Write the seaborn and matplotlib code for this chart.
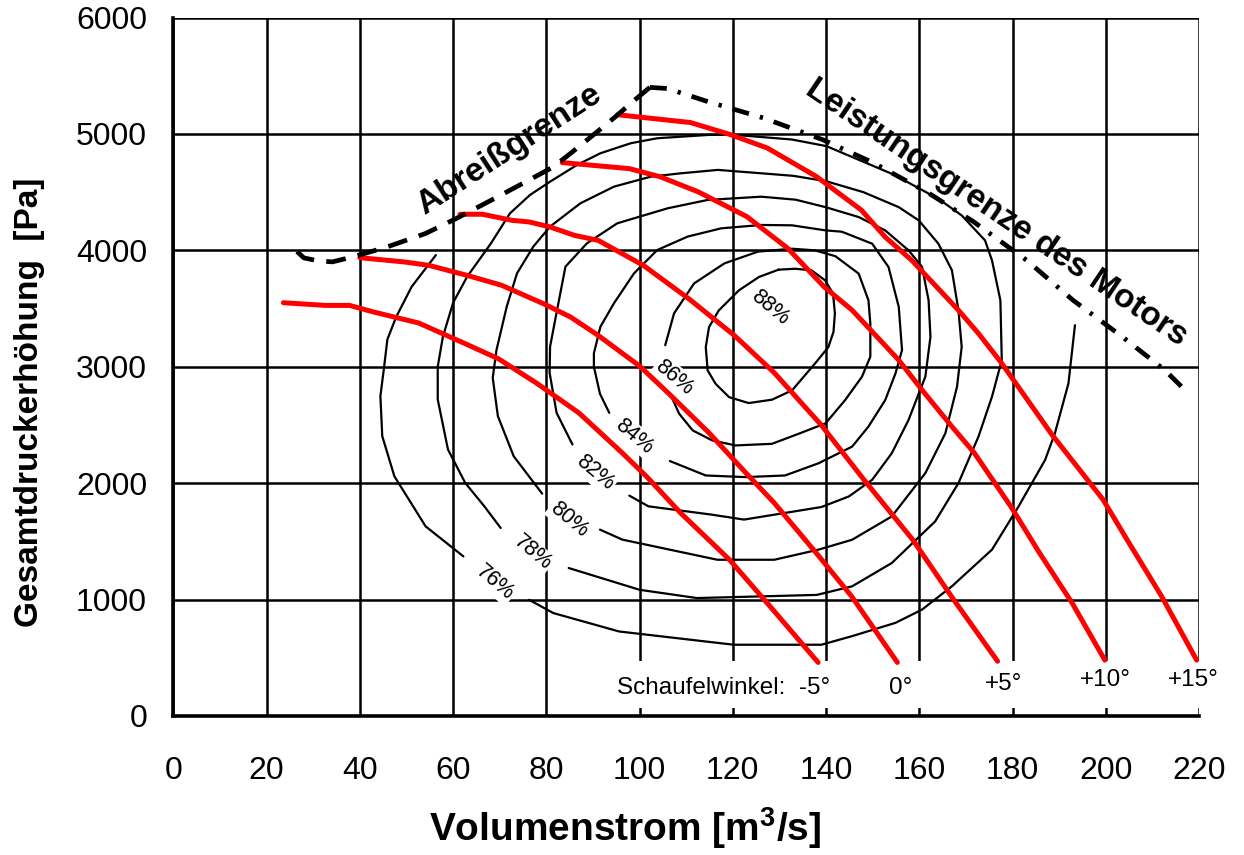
import numpy as np
import pandas as pd
import seaborn as sns
import matplotlib.pyplot as plt

# blade angle curves (Schaufelwinkel), volume flow [m3/s] vs total pressure rise [Pa]
blade_m5_x = [23.6, 32.6, 37.8, 43.0, 52.6, 62.6, 69.7, 77.8, 87.0, 96.3, 101.5, 108.8, 119.3, 128.0, 138.3]
blade_m5_y = [3550, 3527, 3527, 3470, 3376, 3198, 3069, 2862, 2603, 2259, 2057, 1744, 1342, 941, 460]
blade_0_x = [40.0, 49.6, 54.8, 63.0, 70.4, 79.7, 85.2, 91.1, 100.0, 106.1, 114.9, 122.8, 128.9, 138.5, 145.5, 155.3]
blade_0_y = [3937, 3900, 3871, 3785, 3700, 3536, 3427, 3270, 3006, 2776, 2432, 2088, 1830, 1371, 1027, 460]
blade_p5_x = [61.5, 66.3, 72.6, 76.3, 80.8, 86.0, 91.1, 100.8, 110.7, 120.3, 128.9, 138.9, 148.1, 158.6, 167.4, 176.8]
blade_p5_y = [4310, 4310, 4258, 4244, 4201, 4129, 4086, 3871, 3580, 3270, 2948, 2503, 2031, 1514, 998, 470]
blade_p10_x = [83.4, 97.8, 104.5, 112.6, 123.0, 131.8, 139.6, 145.6, 155.6, 160.6, 167.0, 171.8, 179.8, 185.8, 192.8, 199.8]
blade_p10_y = [4754, 4702, 4631, 4502, 4290, 4017, 3686, 3486, 3057, 2800, 2486, 2260, 1790, 1400, 970, 480]
blade_p15_x = [95.3, 110.9, 119.5, 127.4, 137.9, 147.6, 152.7, 158.4, 168.4, 172.7, 177.7, 188.4, 199.4, 205.0, 212.0, 219.5]
blade_p15_y = [5165, 5098, 4994, 4879, 4635, 4345, 4114, 3914, 3486, 3286, 3029, 2420, 1860, 1486, 1027, 480]
blade_labels = ["0°", "+5°", "+10°", "+15°"]
blade_label_x = [156.1, 178.0, 200.0, 218.8]
blade_label_y = [238, 275, 310, 310]

# efficiency isolines
eff88_x = [129.8, 133.4, 136.9, 139.8, 141.5, 141.9, 141.6, 140.5, 137.6, 132.7, 128.4, 123.4, 119.2, 116.3,
           114.6, 114.2, 114.9, 117.0, 121.3, 125.6, 129.8]
eff88_y = [3834, 3842, 3828, 3742, 3629, 3457, 3300, 3169, 3026, 2797, 2717, 2688, 2739, 2854,
           2969, 3169, 3341, 3484, 3656, 3771, 3834]
eff86_x = [105.5, 107.4, 111.7, 118.2, 125.4, 132.7, 137.6, 142.0, 147.0, 149.1, 149.5, 149.5, 147.7, 144.1,
           139.9, 134.1, 128.4, 120.6, 115.6, 111.4, 108.5, 106.7]
eff86_y = [3185, 3459, 3716, 3888, 3989, 4014, 4000, 3950, 3800, 3571, 3371, 3086, 2914, 2714,
           2514, 2424, 2338, 2324, 2367, 2453, 2596, 2754]
eff84_x = [93.5, 91.5, 90.2, 90.2, 91.6, 94.5, 98.8, 103.8, 110.3, 117.5, 126.1, 132.7, 139.8, 143.4, 149.9,
           153.4, 155.6, 156.3, 154.9, 152.7, 149.1, 145.6, 138.4, 131.2, 122.7, 114.2, 106.5]
eff84_y = [2604, 2768, 3000, 3115, 3344, 3545, 3802, 4003, 4118, 4189, 4218, 4215, 4172, 4160, 4057,
           3857, 3514, 3143, 2943, 2714, 2486, 2314, 2171, 2066, 2052, 2066, 2190]
eff82_x = [85.6, 82.2, 80.7, 80.8, 82.3, 84.1, 88.7, 95.2, 106.0, 114.6, 126.1, 133.5, 140.0, 147.0, 152.7,
           157.7, 160.6, 162.0, 162.4, 161.3, 159.9, 157.7, 154.1, 149.9, 144.9, 139.0, 122.4, 115.4, 101.9, 97.8]
eff82_y = [2332, 2604, 2948, 3172, 3487, 3860, 4060, 4232, 4361, 4433, 4461, 4435, 4370, 4286, 4171,
           4000, 3857, 3571, 3257, 2914, 2771, 2543, 2257, 2029, 1886, 1795, 1687, 1730, 1801, 1893]
eff80_x = [79.1, 73.0, 69.6, 68.5, 69.3, 71.5, 73.7, 77.2, 80.8, 87.3, 94.5, 102.4, 108.9, 116.8, 126.1, 133.0,
           140.1, 148.0, 155.6, 159.9, 164.1, 167.0, 168.4, 169.1, 168.1, 165.6, 161.3, 154.1, 145.6, 138.4,
           128.9, 116.7, 96.3, 91.5]
eff80_y = [1910, 2231, 2576, 2905, 3143, 3516, 3802, 4032, 4204, 4404, 4547, 4633, 4662, 4691, 4662, 4640,
           4593, 4500, 4371, 4257, 4057, 3829, 3486, 3171, 2829, 2429, 2086, 1714, 1514, 1429,
           1342, 1342, 1515, 1601]
eff78_x = [70.2, 66.7, 62.6, 58.9, 56.7, 56.7, 57.8, 60.0, 63.0, 68.1, 72.2, 76.5, 80.8, 86.6, 91.6, 98.1,
           103.8, 114.6, 119.5, 132.7, 140.1, 154.5, 164.2, 169.1, 174.1, 175.6, 177.4, 177.7, 175.6, 172.7,
           168.4, 163.4, 154.1, 145.6, 138.0, 112.3, 100.0, 84.8]
eff78_y = [1615, 1801, 2002, 2289, 2719, 3000, 3257, 3550, 3773, 4059, 4318, 4476, 4590, 4734, 4834, 4920,
           4963, 4991, 4995, 4952, 4895, 4651, 4440, 4300, 4086, 3914, 3571, 3057, 2743, 2400,
           2000, 1671, 1314, 1114, 1040, 1013, 1084, 1271]
eff76_upper_x = [56.3, 51.1, 47.8, 45.9, 45.2, 44.4, 44.8, 47.4, 54.1, 62.2]
eff76_upper_y = [3959, 3687, 3429, 3235, 3000, 2748, 2404, 2059, 1629, 1371]
eff76_lower_x = [76.3, 81.5, 95.6, 120.2, 139.0, 145.6, 154.9, 160.6, 167.0, 175.6, 181.3, 187.0, 189.1,
                 192.0, 193.4]
eff76_lower_y = [998, 884, 726, 612, 612, 686, 800, 914, 1114, 1429, 1800, 2200, 2429, 2857, 3357]
eff_labels = ["76%", "78%", "80%", "82%", "84%", "86%", "88%"]
eff_label_x = [68.9, 77.0, 84.8, 90.5, 98.9, 107.5, 128.0]
eff_label_y = [1142, 1400, 1687, 2088, 2404, 2911, 3513]

# limits: stall limit and motor power limit
stall_x = [26.5, 28.0, 31.0, 34.1, 38.5, 45.9, 54.1, 60.7, 68.9, 75.6, 81.5, 85.6, 92.2, 94.8, 98.5, 102.2]
stall_y = [3990, 3935, 3910, 3901, 3944, 4030, 4145, 4274, 4446, 4589, 4717, 4846, 5061, 5147, 5276, 5400]
power_x = [102.2, 106.0, 114.3, 126.5, 139.2, 150.2, 162.0, 171.6, 183.0, 193.0, 203.6, 212.7, 216.5]
power_y = [5400, 5390, 5282, 5138, 4952, 4751, 4492, 4247, 3916, 3571, 3256, 2970, 2820]

sns.set_style("white")
plt.rcParams['font.family'] = ['Liberation Sans', 'DejaVu Sans']
plt.rcParams['mathtext.fontset'] = 'custom'
plt.rcParams['mathtext.rm'] = 'Liberation Sans'
plt.rcParams['mathtext.bf'] = 'Liberation Sans:bold'
plt.rcParams['text.color'] = 'black'
plt.rcParams['axes.labelcolor'] = 'black'
plt.rcParams['xtick.color'] = 'black'
plt.rcParams['ytick.color'] = 'black'

fig, ax = plt.subplots(figsize=(12.44, 8.55), dpi=100)
fig.subplots_adjust(left=0.1394, right=0.9638, top=0.9795, bottom=0.1626)

# efficiency isolines
contours = [(eff88_x, eff88_y), (eff86_x, eff86_y), (eff84_x, eff84_y), (eff82_x, eff82_y),
            (eff80_x, eff80_y), (eff78_x, eff78_y), (eff76_upper_x, eff76_upper_y),
            (eff76_lower_x, eff76_lower_y)]
for cx, cy in contours:
    sns.lineplot(x=cx, y=cy, sort=False, estimator=None, color='black', lw=1.6, ax=ax, zorder=2)

for txt, lx, ly in zip(eff_labels, eff_label_x, eff_label_y):
    ax.text(lx, ly, txt, fontsize=15.5, color='black', rotation=-40, rotation_mode='anchor',
            ha='center', va='center', zorder=3,
            bbox=dict(facecolor='white', edgecolor='none', pad=1))

# blade angle curves
for bx, by in [(blade_m5_x, blade_m5_y), (blade_0_x, blade_0_y), (blade_p5_x, blade_p5_y),
               (blade_p10_x, blade_p10_y), (blade_p15_x, blade_p15_y)]:
    sns.lineplot(x=bx, y=by, sort=False, estimator=None, color='#ff0000', lw=3.6, ax=ax, zorder=4)

# operating limits
sns.lineplot(x=stall_x, y=stall_y, sort=False, estimator=None, color='black', lw=3.4,
             linestyle=(0, (4.2, 2.6)), ax=ax, zorder=4)
sns.lineplot(x=power_x, y=power_y, sort=False, estimator=None, color='black', lw=3.4,
             linestyle=(0, (3.6, 2.4, 0.7, 2.4)), ax=ax, zorder=4)
ax.text(72, 4865, "Abreißgrenze", fontsize=24, fontweight='bold', color='black', rotation=33,
        rotation_mode='anchor', ha='center', va='center', zorder=5)
ax.text(176.6, 4320, "Leistungsgrenze des Motors", fontsize=24, fontweight='bold', color='black',
        rotation=-34, rotation_mode='anchor', ha='center', va='center', zorder=5)

# blade angle annotation row
ax.axhspan(65, 470, xmin=95.5 / 220, xmax=1, facecolor='white', edgecolor='none', zorder=1)
ax.text(140.8, 238, "Schaufelwinkel:  -5°", fontsize=17.5, color='black', ha='right', va='center', zorder=5)
for txt, lx, ly in zip(blade_labels, blade_label_x, blade_label_y):
    ax.text(lx, ly, txt, fontsize=17.5, color='black', ha='center', va='center', zorder=5)

ax.set_xlim(0, 220)
ax.set_ylim(0, 6000)
ax.set_xticks(np.arange(0, 221, 20))
ax.set_yticks(np.arange(0, 6001, 1000))
ax.grid(True, color='black', lw=1.8)
ax.set_axisbelow(True)
for side in ['top', 'right']:
    ax.spines[side].set_visible(False)
for side in ['left', 'bottom']:
    ax.spines[side].set_linewidth(2.6)
    ax.spines[side].set_color('black')
ax.tick_params(direction='out', length=8, width=2.2, labelsize=23, colors='black')
ax.tick_params(axis='x', pad=21)
ax.tick_params(axis='y', pad=11)

ax.set_xlabel(r'Volumenstrom [m$^{\mathbf{3}}$/s]', fontsize=28, fontweight='bold')
ax.xaxis.set_label_coords(0.440, -0.128)
ax.set_ylabel('Gesamtdruckerhöhung  [Pa]', fontsize=24, fontweight='bold')
ax.yaxis.set_label_coords(-0.125, 0.449)

fig.savefig('out.png', dpi=100)
